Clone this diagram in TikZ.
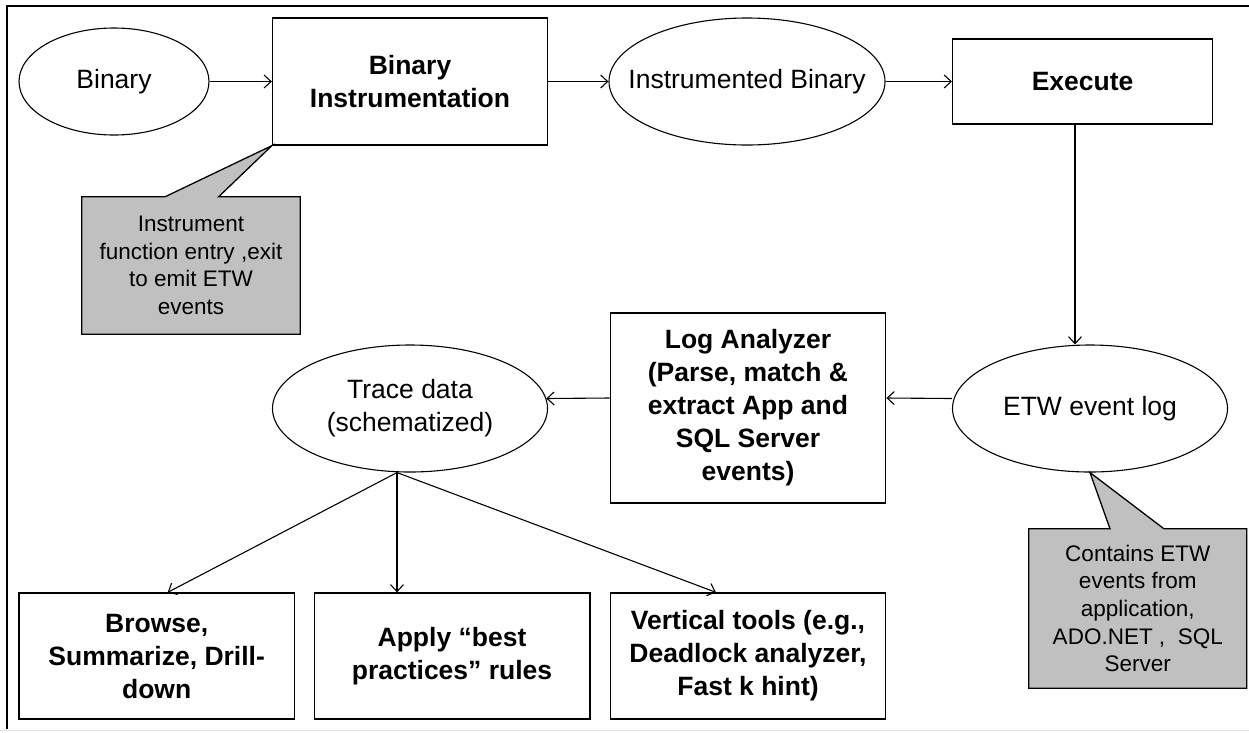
\documentclass[tikz,border=0pt]{standalone}
\usepackage{fontspec}
\setmainfont{Liberation Sans}
\usetikzlibrary{shapes.geometric,arrows.meta,backgrounds}
\definecolor{calloutgray}{HTML}{C0C0C0}
\definecolor{framegray}{HTML}{E0E0E0}
\begin{document}
\begin{tikzpicture}[x=1pt,y=-1pt,
  box/.style={draw,line width=1.3pt,inner sep=0pt,align=center,font=\fontsize{26.5}{33}\selectfont\bfseries},
  oval/.style={draw,ellipse,line width=1.1pt,inner sep=0pt},
  ovaltext/.style={font=\fontsize{26.5}{33}\selectfont,align=center,inner sep=0pt},
  arr/.style={line width=1.1pt,-{Straight Barb[length=7pt,width=13pt]}},
  calloutshape/.style={draw,line width=1.3pt,fill=calloutgray,line join=miter},
  callouttext/.style={font=\fontsize{22.5}{27.6}\selectfont,align=center,inner sep=0pt}
]
\useasboundingbox (0,0) rectangle (1249,732);
% frame
\draw[line width=2pt] (1249,6) -- (7,6) -- (7,729);
\draw[framegray,line width=1.5pt] (0,730.5) -- (1249,730.5);

% top row
\node[oval,minimum width=190pt,minimum height=107pt] (bin) at (114,81.5) {};
\node[ovaltext] (bintext) at (bin.center) {Binary};
\node[box,minimum width=275pt,minimum height=127pt] (bi) at (410,81.5) {Binary\\Instrumentation};
\node[oval,minimum width=276pt,minimum height=127pt] (ib) at (747,81.5) {};
\node[ovaltext] (ibtext) at (ib.center) {Instrumented Binary};
\node[box,minimum width=260pt,minimum height=85pt] (exec) at (1082.6,81.5) {Execute};

% middle row
\node[oval,minimum width=275pt,minimum height=127pt] (etw) at (1090,408.5) {};
\node[ovaltext] (etwtext) at (etw.center) {ETW event log};
\node[box,minimum width=275.6pt,minimum height=190pt] (la) at (748,408) {Log Analyzer\\(Parse, match \&\\extract App and\\SQL Server\\events)};
\node[oval,minimum width=275pt,minimum height=127pt] (tr) at (410,408.5) {};
\node[ovaltext] (trtext) at (tr.center) {Trace data\\(schematized)};

% bottom row
\node[box,minimum width=275.5pt,minimum height=126pt] (br) at (156.7,656) {Browse,\\Summarize, Drill-\\down};
\node[box,minimum width=275.7pt,minimum height=126pt] (ap) at (452,656) {Apply “best\\practices” rules};
\node[box,minimum width=275.6pt,minimum height=126pt] (vt) at (748,656) {Vertical tools (e.g.,\\Deadlock analyzer,\\Fast k hint)};

% callouts
\node[callouttext,minimum width=218pt,minimum height=137pt] (c1) at (191,265.5) {Instrument\\function entry ,exit\\to emit ETW\\events};
\node[callouttext,minimum width=217.5pt,minimum height=159pt] (c2) at (1137.75,608.5) {Contains ETW\\events from\\application,\\ADO.NET , \ SQL\\Server};
\begin{scope}[on background layer]
\draw[calloutshape] (c1.north west) -- ([xshift=-26pt]c1.north) -- (bi.south west) -- ([xshift=27.6pt]c1.north) -- (c1.north east) -- (c1.south east) -- (c1.south west) -- cycle;
\draw[calloutshape] (c2.north west) -- ([xshift=-27.75pt]c2.north) -- (etw.south) -- ([xshift=26.25pt]c2.north) -- (c2.north east) -- (c2.south east) -- (c2.south west) -- cycle;
\end{scope}

% connectors
\draw[arr] (bin.east) -- (bi.west);
\draw[arr] (bi.east) -- (ib.west);
\draw[arr] (ib.east) -- (exec.west);
\draw[arr] ([xshift=-7.6pt]exec.south) -- ([xshift=-7.6pt]exec.south |- etw.north);
\draw[arr] ([yshift=10pt]etw.west) -- ([yshift=10pt]la.east);
\draw[arr] ([yshift=10pt]la.west) -- ([yshift=10pt,xshift=-1.7pt]tr.east);
\coordinate (ts) at ([xshift=-13pt]tr.south);
\draw[arr] (ts) -- ([xshift=11pt]br.north);
\draw[arr] (ts) -- (ts |- ap.north);
\draw[arr] (ts) -- ([xshift=-32pt]vt.north);
\end{tikzpicture}
\end{document}
